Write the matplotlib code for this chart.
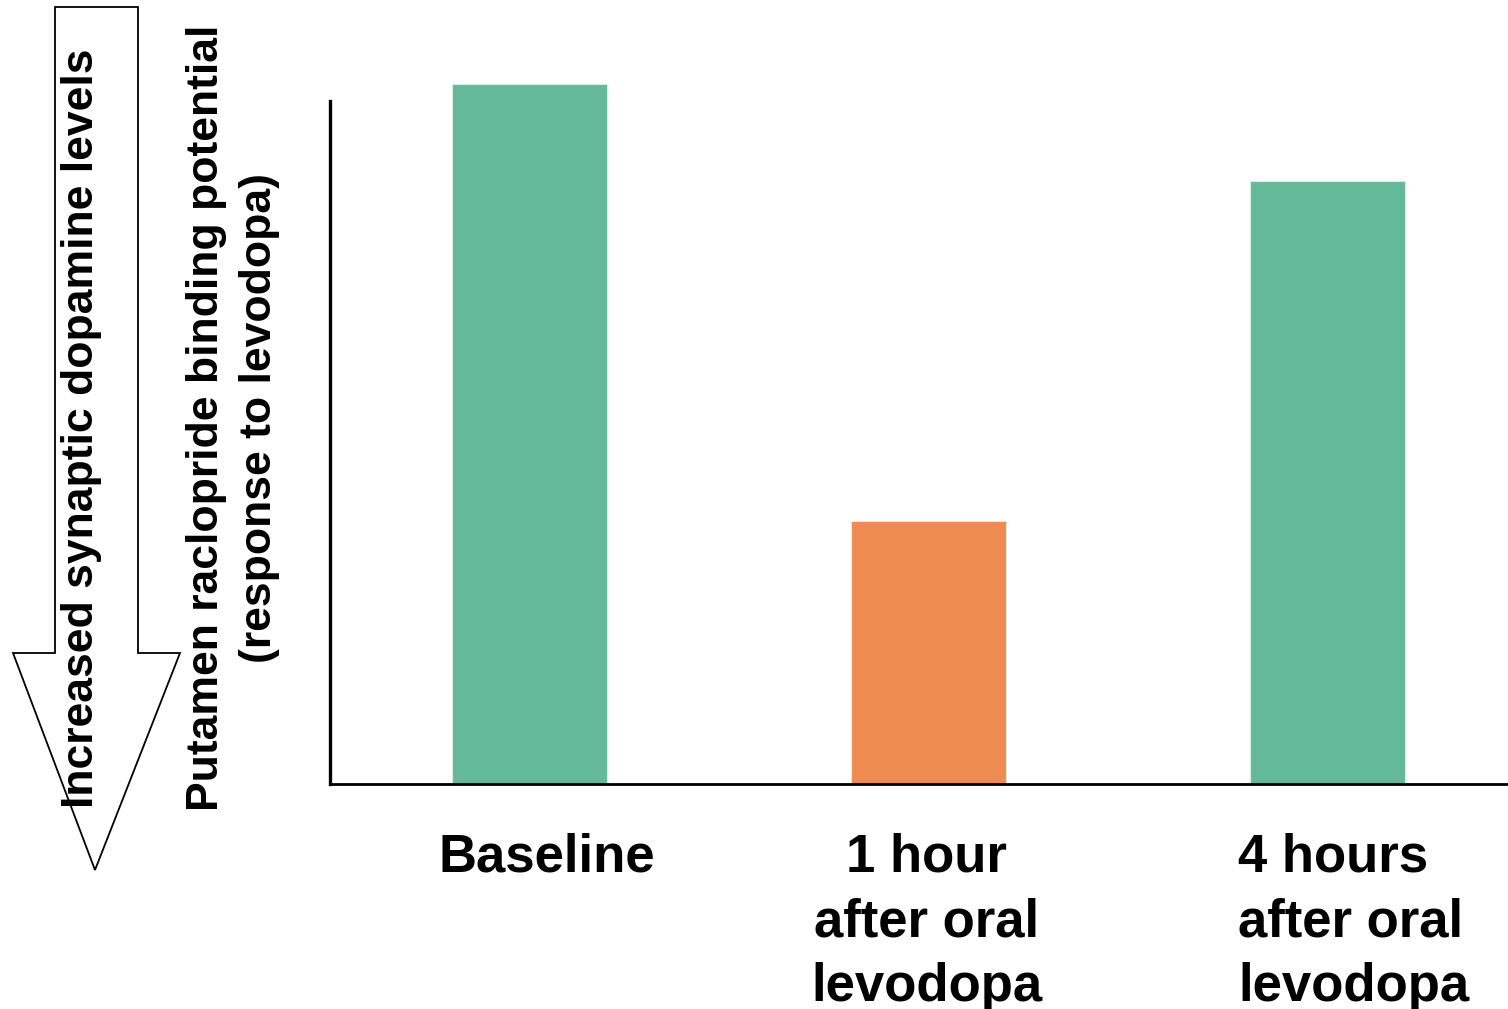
import matplotlib
matplotlib.use("Agg")
from matplotlib import pyplot as plt
from matplotlib.patches import Polygon

plt.rcParams['font.family'] = ['Liberation Sans', 'DejaVu Sans']

# data
conditions = ["Baseline", "1 hour\nafter oral\nlevodopa", "4 hours\nafter oral\nlevodopa"]
binding = [100, 37.6, 86.1]
bar_colors = ["#64B99B", "#EE8B50", "#64B99B"]
arrow_text = "Increased synaptic dopamine levels"
ylabel_text = "Putamen raclopride binding potential\n(response to levodopa)"

fig = plt.figure(figsize=(15.08, 10.09), dpi=100)
W, H = 1508, 1009


def fx(px):
    return px / W


def fy(py):
    return 1 - py / H


# main axes
ax = fig.add_axes([fx(330), fy(784), fx(1508) - fx(330), fy(84) - fy(784)])
x = list(range(len(conditions)))
ax.bar(x, binding, width=0.388, color=bar_colors, edgecolor="#d8eee5", linewidth=0.8, zorder=2)
ax.set_xlim(-0.5, 2.452)
ax.set_ylim(0, 100)
for s in ("top", "right"):
    ax.spines[s].set_visible(False)
ax.spines["left"].set_linewidth(2.4)
ax.spines["left"].set_bounds(0, 97.6)
ax.spines["bottom"].set_linewidth(2.0)
ax.set_xticks([])
ax.set_yticks([])

# category labels below axis
label_x = [0.044, 0.995, 1.776]
label_ha = ["center", "center", "left"]
for xi, lab, ha in zip(label_x, conditions, label_ha):
    ax.text(xi, -0.07, lab, transform=ax.get_xaxis_transform(), ha=ha, va="top",
            multialignment=ha, fontsize=38, fontweight="bold", linespacing=1.37)

# big downward arrow on the left
arrow_pts = [(55, 7), (138, 7), (138, 653), (180, 653), (95, 870),
             (13, 653), (55, 653)]
arrow = Polygon([(fx(px), fy(py)) for px, py in arrow_pts], closed=True,
                facecolor="white", edgecolor="black", linewidth=1.3,
                transform=fig.transFigure)
fig.patches.append(arrow)

fig.text(fx(82), fy(428), arrow_text, rotation=90, ha="center", va="center",
         fontsize=32, fontweight="bold")
fig.text(fx(233), fy(418), ylabel_text, rotation=90, ha="center", va="center",
         multialignment="center", fontsize=32, fontweight="bold", linespacing=1.4)

fig.savefig("out.png", dpi=100)
